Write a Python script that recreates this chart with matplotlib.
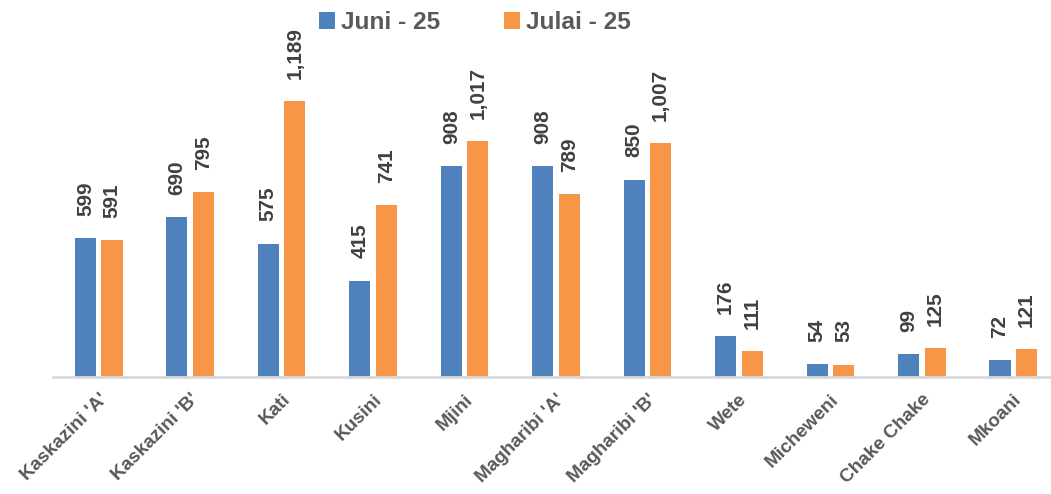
import matplotlib
matplotlib.use("Agg")
import matplotlib.pyplot as plt
from matplotlib import font_manager
import numpy as np

categories = ["Kaskazini 'A'", "Kaskazini 'B'", "Kati", "Kusini", "Mjini",
              "Magharibi 'A'", "Magharibi 'B'", "Wete", "Micheweni",
              "Chake Chake", "Mkoani"]
juni = [599, 690, 575, 415, 908, 908, 850, 176, 54, 99, 72]
julai = [591, 795, 1189, 741, 1017, 789, 1007, 111, 53, 125, 121]
series_names = ["Juni - 25", "Julai - 25"]

narrow = False
try:
    font_manager.findfont(font_manager.FontProperties(family='Liberation Sans Narrow', weight='bold'),
                          fallback_to_default=False)
    narrow = True
except Exception:
    narrow = False

FONT = ['Liberation Sans Narrow', 'Liberation Sans', 'DejaVu Sans'] if narrow else ['Liberation Sans', 'DejaVu Sans']
plt.rcParams['font.family'] = FONT
k = 1.0 if narrow else 0.88

W, H = 1051, 494
fig = plt.figure(figsize=(W/100, H/100), dpi=100)
ax = fig.add_axes([53/W, 117/H, 1 - 53/W, (377)/H])

x = np.arange(len(categories))
bw = 0.23
off = 0.145
blue = '#4F81BD'
orange = '#F79646'
b1 = ax.bar(x - off, juni, bw, color=blue, label=series_names[0], zorder=2)
b2 = ax.bar(x + off, julai, bw, color=orange, label=series_names[1], zorder=2)

ax.set_xlim(-0.5, 10.5 - (1059 - 1051) / 91.45)
ax.set_ylim(0, 1624)

lblcol = '#404040'
for bars, vals in ((b1, juni), (b2, julai)):
    for r, v in zip(bars, vals):
        ax.annotate(f"{v:,}", (r.get_x() + r.get_width()/2, r.get_height()),
                    xytext=(0, 16), textcoords='offset points',
                    rotation=90, ha='center', va='bottom',
                    fontsize=17 * k, fontweight='bold', color=lblcol)

for s in ['top', 'right', 'left']:
    ax.spines[s].set_visible(False)
ax.spines['bottom'].set_color('#D9D9D9')
ax.spines['bottom'].set_linewidth(2)
ax.set_yticks([])
ax.set_xticks(x)
ax.set_xticklabels(categories, rotation=45, ha='right', va='top',
                   rotation_mode='anchor', fontsize=15.5 * k, fontweight='bold',
                   color='#595959')
ax.tick_params(axis='x', length=0, pad=10)

leg = fig.legend(handles=[b1, b2], loc='upper center',
                 bbox_to_anchor=(475/W, 1.022), ncol=2, frameon=False,
                 prop={'size': 20 * k, 'weight': 'bold', 'family': FONT},
                 handlelength=0.65, handleheight=0.65, columnspacing=2.6,
                 handletextpad=0.25)
for t in leg.get_texts():
    t.set_color('#595959')

fig.savefig('out.png', dpi=100)
